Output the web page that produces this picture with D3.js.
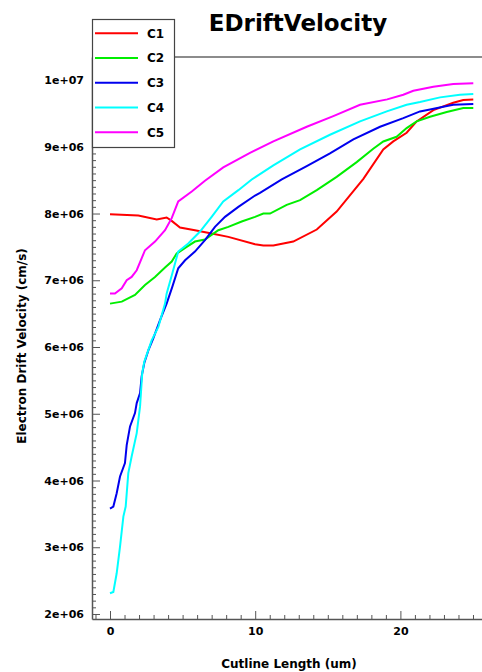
<!DOCTYPE html>
<html>
<head>
<meta charset="utf-8">
<script src="https://cdn.jsdelivr.net/npm/d3@7"></script>
<style>
  body { margin: 0; background: #fff; }
  text { font-family: "DejaVu Sans", sans-serif; font-weight: bold; fill: #000; }
</style>
</head>
<body>
<script>
// series names and colours
const seriesNames = ["C1", "C2", "C3", "C4", "C5"];
const seriesColors = ["#ff0000", "#00ee00", "#0000ee", "#00ffff", "#ff00ff"];

// cutline position (um) and electron drift velocity (cm/s)
const c1x = [0, 1.95, 3.22, 3.9, 4.25, 4.82, 5.85, 7.0, 8.15, 9.99, 10.56, 11.25, 12.62, 14.24, 15.61, 17.45, 18.82, 19.51, 20.43, 21.12, 22.27, 23.64, 24.33, 25.02];
const c1y = [7.99e6, 7.97e6, 7.91e6, 7.94e6, 7.89e6, 7.79e6, 7.75e6, 7.70e6, 7.65e6, 7.54e6, 7.52e6, 7.52e6, 7.58e6, 7.76e6, 8.03e6, 8.52e6, 8.96e6, 9.08e6, 9.21e6, 9.38e6, 9.55e6, 9.66e6, 9.70e6, 9.71e6];

const c2x = [0, 0.81, 1.72, 2.41, 3.10, 3.79, 4.25, 4.59, 5.28, 5.85, 6.54, 7.46, 8.15, 9.07, 9.99, 10.56, 11.02, 12.17, 13.09, 14.24, 15.61, 16.99, 18.13, 18.82, 19.74, 20.43, 21.12, 22.04, 23.19, 24.33, 25.02];
const c2y = [6.65e6, 6.68e6, 6.78e6, 6.93e6, 7.05e6, 7.19e6, 7.28e6, 7.40e6, 7.50e6, 7.58e6, 7.61e6, 7.75e6, 7.80e6, 7.88e6, 7.95e6, 8.00e6, 8.00e6, 8.13e6, 8.20e6, 8.35e6, 8.55e6, 8.77e6, 8.97e6, 9.08e6, 9.15e6, 9.28e6, 9.38e6, 9.45e6, 9.52e6, 9.58e6, 9.58e6];

const c3x = [0, 0.23, 0.46, 0.69, 1.03, 1.15, 1.38, 1.72, 1.84, 2.07, 2.18, 2.36, 2.64, 2.98, 3.44, 3.90, 4.29, 4.70, 5.17, 5.85, 6.54, 7.23, 7.92, 8.84, 9.99, 10.33, 11.83, 13.55, 15.15, 16.76, 18.60, 20.2, 21.35, 22.04, 22.95, 23.64, 25.02];
const c3y = [3.58e6, 3.61e6, 3.81e6, 4.06e6, 4.26e6, 4.53e6, 4.81e6, 5.01e6, 5.16e6, 5.31e6, 5.56e6, 5.76e6, 5.95e6, 6.13e6, 6.40e6, 6.65e6, 6.90e6, 7.18e6, 7.30e6, 7.43e6, 7.60e6, 7.80e6, 7.95e6, 8.10e6, 8.27e6, 8.31e6, 8.51e6, 8.71e6, 8.90e6, 9.11e6, 9.30e6, 9.43e6, 9.53e6, 9.56e6, 9.60e6, 9.63e6, 9.64e6];

const c4x = [0, 0.23, 0.46, 0.69, 0.92, 1.08, 1.26, 1.49, 1.84, 2.07, 2.22, 2.36, 2.87, 3.33, 3.79, 3.90, 4.29, 4.70, 5.39, 6.20, 7.00, 7.80, 8.84, 9.76, 11.25, 13.09, 15.15, 17.22, 19.06, 20.43, 21.35, 22.73, 24.1, 25.02];
const c4y = [2.31e6, 2.33e6, 2.61e6, 3.01e6, 3.46e6, 3.61e6, 4.11e6, 4.36e6, 4.71e6, 5.11e6, 5.61e6, 5.78e6, 6.10e6, 6.30e6, 6.65e6, 6.80e6, 7.10e6, 7.43e6, 7.55e6, 7.73e6, 7.95e6, 8.18e6, 8.35e6, 8.51e6, 8.72e6, 8.96e6, 9.18e6, 9.38e6, 9.53e6, 9.63e6, 9.67e6, 9.74e6, 9.78e6, 9.79e6];

const c5x = [0, 0.34, 0.81, 1.15, 1.49, 1.84, 2.41, 3.10, 3.79, 4.25, 4.70, 5.63, 6.54, 7.80, 9.64, 11.25, 13.55, 15.38, 17.22, 19.09, 20.2, 20.89, 22.27, 23.64, 25.02];
const c5y = [6.80e6, 6.80e6, 6.88e6, 7.00e6, 7.05e6, 7.15e6, 7.45e6, 7.58e6, 7.75e6, 7.93e6, 8.18e6, 8.33e6, 8.49e6, 8.69e6, 8.91e6, 9.08e6, 9.30e6, 9.46e6, 9.63e6, 9.71e6, 9.78e6, 9.84e6, 9.90e6, 9.94e6, 9.95e6];

// tick values
const xMajorTicks = [0, 10, 20];
const yMajorTicks = [2e6, 3e6, 4e6, 5e6, 6e6, 7e6, 8e6, 9e6, 1e7];

const seriesX = [c1x, c2x, c3x, c4x, c5x];
const seriesY = [c1y, c2y, c3y, c4y, c5y];

const W = 482, H = 672;
const plot = { left: 92, right: 482, top: 57, bottom: 619 };

const svg = d3.select("body").append("svg")
    .attr("width", W)
    .attr("height", H);

const x = d3.scaleLinear().domain([-1.24, 25.62]).range([plot.left, plot.right]);
const y = d3.scaleLinear().domain([1.925e6, 10.345e6]).range([plot.bottom, plot.top]);

const fmt = d => d3.format(".0e")(d).replace(/e\+(\d)$/, "e+0$1");

// minor ticks
const xMinor = d3.range(-1, 26, 1).filter(v => !xMajorTicks.includes(v));
const yMinor = d3.range(20, 104, 1).map(v => v * 1e5).filter(v => v % 1e6 !== 0);

svg.append("g")
    .attr("transform", `translate(0,${plot.bottom})`)
    .call(d3.axisBottom(x).tickValues(xMinor).tickSizeInner(-4).tickSizeOuter(0).tickFormat(""))
    .call(g => g.select(".domain").remove());
svg.append("g")
    .attr("transform", `translate(${plot.left},0)`)
    .call(d3.axisLeft(y).tickValues(yMinor).tickSizeInner(-4).tickSizeOuter(0).tickFormat(""))
    .call(g => g.select(".domain").remove());

// major axes
const xAxis = svg.append("g")
    .attr("transform", `translate(0,${plot.bottom})`)
    .call(d3.axisBottom(x).tickValues(xMajorTicks).tickSizeInner(-8).tickSizeOuter(0).tickPadding(8));
const yAxis = svg.append("g")
    .attr("transform", `translate(${plot.left},0)`)
    .call(d3.axisLeft(y).tickValues(yMajorTicks).tickSizeInner(-8).tickSizeOuter(0).tickPadding(8).tickFormat(fmt));

[xAxis, yAxis].forEach(g => {
    g.selectAll("text").style("font-size", "11px").style("font-family", "DejaVu Sans").style("font-weight", "bold").attr("fill", "#000");
});
svg.selectAll(".domain").attr("stroke", "#555").attr("stroke-width", 1.5);
svg.selectAll(".tick line").attr("stroke", "#555");

// top frame line
svg.append("line")
    .attr("x1", plot.left).attr("x2", plot.right)
    .attr("y1", plot.top).attr("y2", plot.top)
    .attr("stroke", "#666").attr("stroke-width", 1.5);

// curves
const line = d3.line().x(d => x(d[0])).y(d => y(d[1]));
seriesNames.forEach((name, i) => {
    svg.append("path")
        .datum(d3.zip(seriesX[i], seriesY[i]))
        .attr("d", line)
        .attr("fill", "none")
        .attr("stroke", seriesColors[i])
        .attr("stroke-width", 2);
});

// title and axis labels
svg.append("text")
    .attr("x", 298).attr("y", 31)
    .attr("text-anchor", "middle")
    .style("font-size", "23px")
    .text("EDriftVelocity");

svg.append("text")
    .attr("x", 289).attr("y", 668)
    .attr("text-anchor", "middle")
    .style("font-size", "12px")
    .text("Cutline Length (um)");

svg.append("text")
    .attr("transform", "translate(26,346) rotate(-90)")
    .attr("text-anchor", "middle")
    .style("font-size", "12px")
    .text("Electron Drift Velocity (cm/s)");

// legend
const legend = svg.append("g");
legend.append("rect")
    .attr("x", 92.5).attr("y", 19.5)
    .attr("width", 82).attr("height", 128)
    .attr("fill", "#fff")
    .attr("stroke", "#444").attr("stroke-width", 1.2);
const rowY = d3.scalePoint().domain(seriesNames).range([33.3, 132.3]);
seriesNames.forEach((name, i) => {
    legend.append("line")
        .attr("x1", 95).attr("x2", 138)
        .attr("y1", rowY(name)).attr("y2", rowY(name))
        .attr("stroke", seriesColors[i]).attr("stroke-width", 2);
    legend.append("text")
        .attr("x", 147).attr("y", rowY(name))
        .attr("dy", "0.36em")
        .style("font-size", "12px")
        .text(name);
});
</script>
</body>
</html>
